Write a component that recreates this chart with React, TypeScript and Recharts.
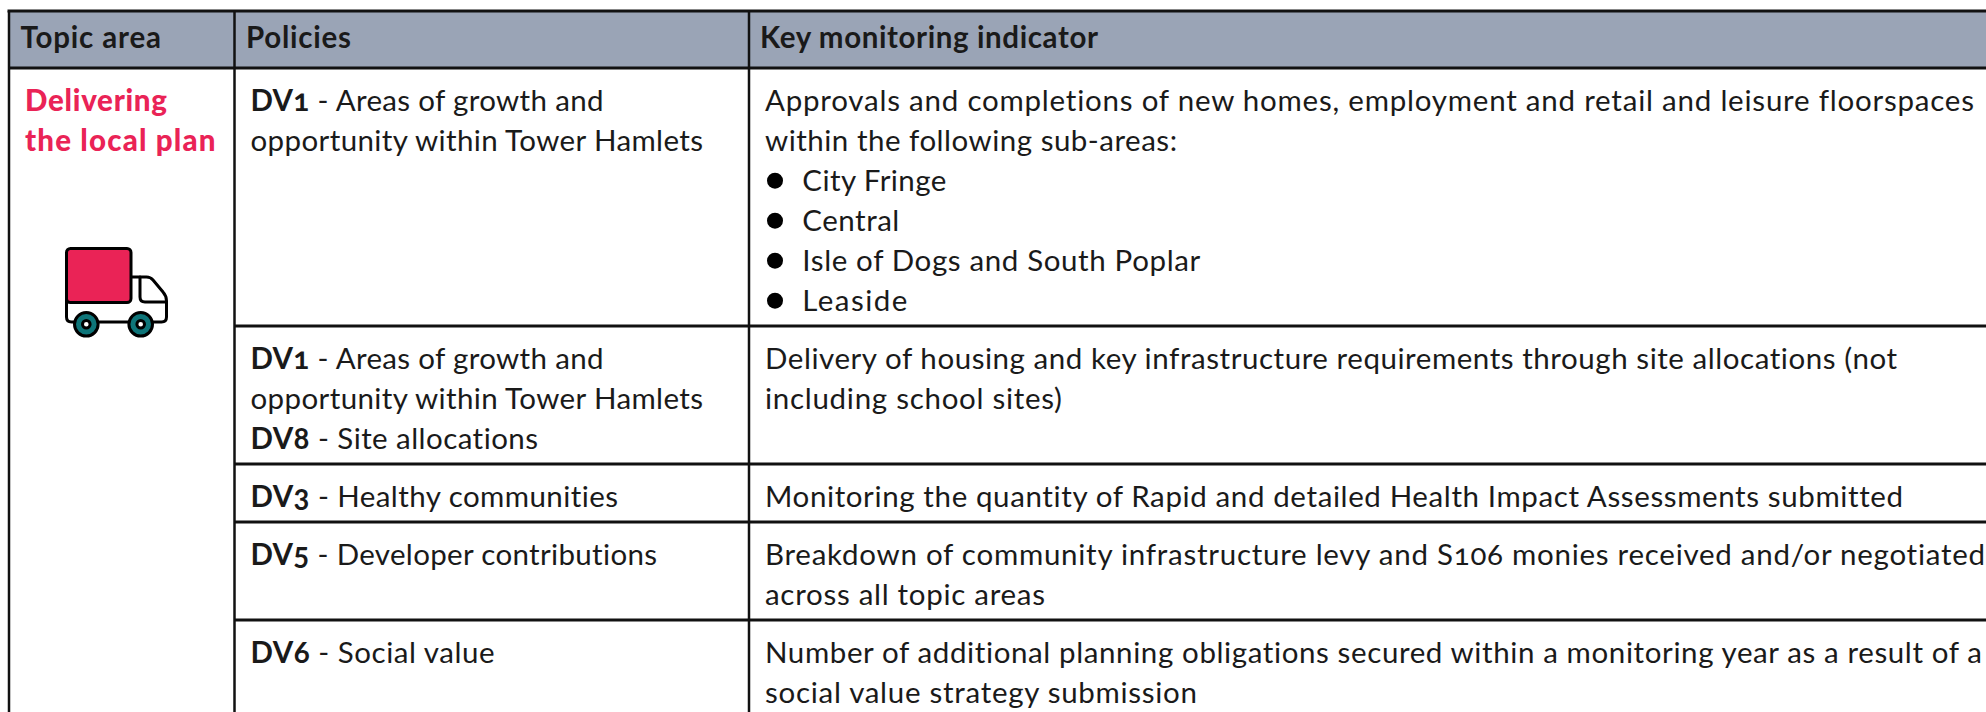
import React from 'react';
import { ComposedChart, XAxis, YAxis, Scatter, ReferenceArea, ReferenceLine } from 'recharts';

const WIDTH = 1986;
const HEIGHT = 712;
const INK = '#1a1a1a';
const FONT = 'Lato, sans-serif';
const FONT_SIZE = 29.5;
const LINE_HEIGHT = 40;
const BASELINE_OFFSET = 42.7;

// table grid
const columnEdges = [9, 234.5, 749];
const rowEdges = [68, 326, 464, 522, 620];
const tableTop = 11;

const headers = ['Topic area', 'Policies', 'Key monitoring indicator'];
const topicLines = ['Delivering', 'the local plan'];

const policies: Array<Array<[string, string]>> = [
  [['DV1', ' - Areas of growth and'], ['', 'opportunity within Tower Hamlets']],
  [['DV1', ' - Areas of growth and'], ['', 'opportunity within Tower Hamlets'], ['DV8', ' - Site allocations']],
  [['DV3', ' - Healthy communities']],
  [['DV5', ' - Developer contributions']],
  [['DV6', ' - Social value']],
];

const indicators: string[][] = [
  ['Approvals and completions of new homes, employment and retail and leisure floorspaces', 'within the following sub-areas:'],
  ['Delivery of housing and key infrastructure requirements through site allocations (not', 'including school sites)'],
  ['Monitoring the quantity of Rapid and detailed Health Impact Assessments submitted'],
  ['Breakdown of community infrastructure levy and S106 monies received and/or negotiated', 'across all topic areas'],
  ['Number of additional planning obligations secured within a monitoring year as a result of a', 'social value strategy submission'],
];

const subAreas = ['City Fringe', 'Central', 'Isle of Dogs and South Poplar', 'Leaside'];

// measured line widths, the substitute font is fitted to these
const headerWidths = [140.6, 105, 338];
const topicWidths = [142, 190.5];
const policyWidths = [[353, 452.5], [353, 452.5, 287.5], [367.5], [406.5], [244]];
const indicatorWidths = [[1209, 412], [1132, 297], [1138], [1220, 280], [1217, 432]];
const subAreaWidths = [144, 97, 398, 105];

type Line = { x: number; y: number; bold?: string; text: string; width: number; color?: string; heavy?: number };

const headerX = [20.4, 246, 760];
const cellX = [25, 250.5, 765];

const baseline = (row: number, i: number) => rowEdges[row] + BASELINE_OFFSET + i * LINE_HEIGHT;

const lines: Line[] = [
  ...headers.map((text, i) => ({ x: headerX[i], y: 48, text: '', bold: text, width: headerWidths[i] })),
  ...topicLines.map((text, i) => ({ x: cellX[0], y: baseline(0, i), text: '', bold: text, color: '#ea2356', heavy: 900, width: topicWidths[i] })),
  ...policies.flatMap((cell, row) =>
    cell.map(([bold, text], i) => ({ x: cellX[1], y: baseline(row, i), bold, text, width: policyWidths[row][i] })),
  ),
  ...indicators.flatMap((cell, row) =>
    cell.map((text, i) => ({ x: cellX[2], y: baseline(row, i), text, width: indicatorWidths[row][i] })),
  ),
  ...subAreas.map((text, i) => ({ x: 802.3, y: baseline(0, i + 2), text, width: subAreaWidths[i] })),
];

const bullets = subAreas.map((_, i) => ({ x: 775, y: baseline(0, i + 2) - 10 }));
const truckSpot = [{ x: 65, y: 247 }];

const TextLine = (props: any) => {
  const { cx, cy, payload } = props;
  const p = payload as Line;
  return (
    <text
      x={cx}
      y={cy}
      fontFamily={FONT}
      fontSize={FONT_SIZE}
      fill={p.color ?? INK}
      textLength={p.width}
      lengthAdjust="spacing"
      style={{ fontFeatureSettings: '"onum", "liga" 0', whiteSpace: 'pre' }}
    >
      {p.bold ? <tspan fontWeight={p.heavy ?? 700}>{p.bold}</tspan> : null}
      {p.text ? <tspan fontWeight={400}>{p.text}</tspan> : null}
    </text>
  );
};

const Bullet = (props: any) => <circle cx={props.cx} cy={props.cy} r={8} fill="#000" />;

// drawn from the top left corner of the cargo box
const Truck = (props: any) => {
  const { cx, cy } = props;
  const ink = { stroke: '#000', strokeWidth: 3, strokeLinejoin: 'round' as const, strokeLinecap: 'round' as const };
  return (
    <g transform={`translate(${cx} ${cy})`}>
      <path
        d="M1.5 50 V70 Q1.5 75 6.5 75 H96.5 Q101.5 75 101.5 70 V54 Q101.5 49 98 45 L88 33 Q85.5 30 81.5 30 H65 V50 Z"
        fill="#fff"
        {...ink}
      />
      <path d="M75 30 V50 Q75 55 80 55 H101.5" fill="none" {...ink} />
      <rect x={1.5} y={1.5} width={64.5} height={54} rx={4} fill="#ea2356" {...ink} />
      {[21.3, 75.7].map((wx) => (
        <g key={wx}>
          <circle cx={wx} cy={77.3} r={11.8} fill="#0e7579" {...ink} />
          <circle cx={wx} cy={77.3} r={3.8} fill="#fff" {...ink} />
        </g>
      ))}
    </g>
  );
};

export default function App() {
  return (
    <div style={{ position: 'absolute', left: 0, top: 0, background: '#fff' }}>
      <ComposedChart width={WIDTH} height={HEIGHT} margin={{ top: 0, right: 0, bottom: 0, left: 0 }} data={[]}>
        <XAxis type="number" dataKey="x" domain={[0, WIDTH]} hide allowDataOverflow />
        <YAxis type="number" dataKey="y" domain={[0, HEIGHT]} reversed hide allowDataOverflow width={0} />

        <ReferenceArea x1={columnEdges[0]} x2={WIDTH} y1={tableTop} y2={rowEdges[0]} fill="#9aa4b6" fillOpacity={1} stroke="none" />

        <ReferenceLine segment={[{ x: columnEdges[0] - 1.5, y: tableTop }, { x: WIDTH, y: tableTop }]} stroke="#111" strokeWidth={3} />
        {rowEdges.map((y, i) => (
          <ReferenceLine
            key={y}
            segment={[{ x: i === 0 ? columnEdges[0] : columnEdges[1], y }, { x: WIDTH, y }]}
            stroke="#111"
            strokeWidth={3}
          />
        ))}
        {columnEdges.map((x) => (
          <ReferenceLine key={x} segment={[{ x, y: tableTop }, { x, y: HEIGHT }]} stroke="#111" strokeWidth={2.5} />
        ))}

        <Scatter data={truckSpot} shape={<Truck />} isAnimationActive={false} />
        <Scatter data={bullets} shape={<Bullet />} isAnimationActive={false} />
        <Scatter data={lines} shape={<TextLine />} isAnimationActive={false} />
      </ComposedChart>
    </div>
  );
}
